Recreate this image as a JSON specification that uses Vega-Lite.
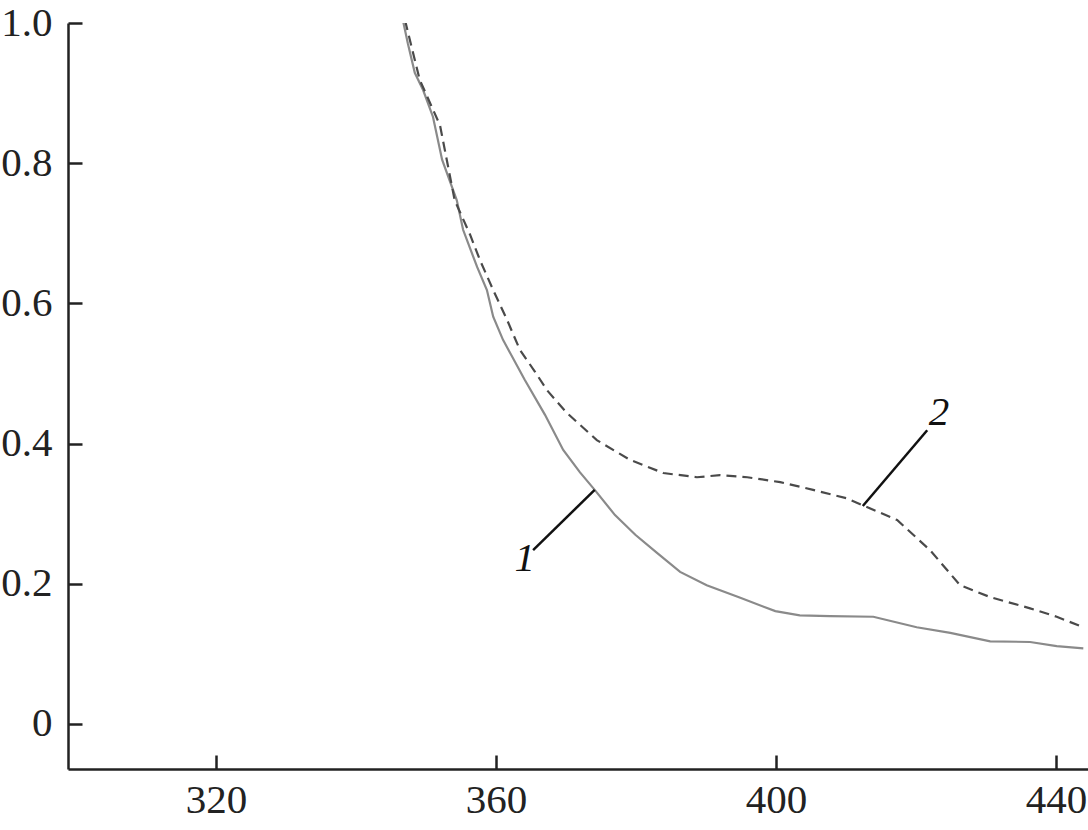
{
  "$schema": "https://vega.github.io/schema/vega-lite/v6.json",
  "width": 1020,
  "height": 746,
  "autosize": {"type": "none"},
  "padding": {"left": 68, "top": 23, "right": 0, "bottom": 61},
  "background": "white",
  "config": {
    "view": {"stroke": null},
    "axis": {
      "labelFont": "Liberation Serif",
      "labelFontSize": 41,
      "labelColor": "#222222",
      "domainColor": "#222222",
      "domainWidth": 2.5,
      "tickColor": "#222222",
      "tickWidth": 2.5,
      "tickSize": -14,
      "grid": false,
      "title": null
    }
  },
  "datasets": {
    "curves": [
      {"wl": 346.7, "a": 1.004, "curve": "1"},
      {"wl": 347.4, "a": 0.971, "curve": "1"},
      {"wl": 348.4, "a": 0.929, "curve": "1"},
      {"wl": 349.6, "a": 0.904, "curve": "1"},
      {"wl": 351.0, "a": 0.866, "curve": "1"},
      {"wl": 352.3, "a": 0.805, "curve": "1"},
      {"wl": 354.4, "a": 0.747, "curve": "1"},
      {"wl": 355.3, "a": 0.705, "curve": "1"},
      {"wl": 357.3, "a": 0.652, "curve": "1"},
      {"wl": 358.7, "a": 0.619, "curve": "1"},
      {"wl": 359.6, "a": 0.581, "curve": "1"},
      {"wl": 361.0, "a": 0.548, "curve": "1"},
      {"wl": 364.1, "a": 0.491, "curve": "1"},
      {"wl": 367.0, "a": 0.441, "curve": "1"},
      {"wl": 369.6, "a": 0.391, "curve": "1"},
      {"wl": 372.0, "a": 0.359, "curve": "1"},
      {"wl": 374.1, "a": 0.334, "curve": "1"},
      {"wl": 377.0, "a": 0.298, "curve": "1"},
      {"wl": 379.9, "a": 0.270, "curve": "1"},
      {"wl": 383.0, "a": 0.244, "curve": "1"},
      {"wl": 386.3, "a": 0.217, "curve": "1"},
      {"wl": 390.1, "a": 0.198, "curve": "1"},
      {"wl": 394.9, "a": 0.180, "curve": "1"},
      {"wl": 399.9, "a": 0.161, "curve": "1"},
      {"wl": 403.4, "a": 0.155, "curve": "1"},
      {"wl": 407.7, "a": 0.154, "curve": "1"},
      {"wl": 413.9, "a": 0.153, "curve": "1"},
      {"wl": 420.1, "a": 0.138, "curve": "1"},
      {"wl": 424.9, "a": 0.130, "curve": "1"},
      {"wl": 430.6, "a": 0.118, "curve": "1"},
      {"wl": 436.3, "a": 0.117, "curve": "1"},
      {"wl": 440.1, "a": 0.111, "curve": "1"},
      {"wl": 443.9, "a": 0.108, "curve": "1"},
      {"wl": 347.0, "a": 1.004, "curve": "2"},
      {"wl": 349.1, "a": 0.919, "curve": "2"},
      {"wl": 352.0, "a": 0.854, "curve": "2"},
      {"wl": 354.1, "a": 0.747, "curve": "2"},
      {"wl": 356.3, "a": 0.698, "curve": "2"},
      {"wl": 357.7, "a": 0.662, "curve": "2"},
      {"wl": 359.6, "a": 0.619, "curve": "2"},
      {"wl": 361.6, "a": 0.576, "curve": "2"},
      {"wl": 363.4, "a": 0.534, "curve": "2"},
      {"wl": 365.6, "a": 0.502, "curve": "2"},
      {"wl": 367.3, "a": 0.476, "curve": "2"},
      {"wl": 370.1, "a": 0.444, "curve": "2"},
      {"wl": 374.4, "a": 0.405, "curve": "2"},
      {"wl": 379.1, "a": 0.377, "curve": "2"},
      {"wl": 383.9, "a": 0.358, "curve": "2"},
      {"wl": 388.7, "a": 0.352, "curve": "2"},
      {"wl": 392.0, "a": 0.355, "curve": "2"},
      {"wl": 395.9, "a": 0.352, "curve": "2"},
      {"wl": 400.6, "a": 0.345, "curve": "2"},
      {"wl": 405.3, "a": 0.334, "curve": "2"},
      {"wl": 410.1, "a": 0.322, "curve": "2"},
      {"wl": 412.4, "a": 0.312, "curve": "2"},
      {"wl": 417.3, "a": 0.291, "curve": "2"},
      {"wl": 422.0, "a": 0.248, "curve": "2"},
      {"wl": 426.3, "a": 0.198, "curve": "2"},
      {"wl": 430.6, "a": 0.181, "curve": "2"},
      {"wl": 436.3, "a": 0.165, "curve": "2"},
      {"wl": 440.1, "a": 0.153, "curve": "2"},
      {"wl": 443.9, "a": 0.138, "curve": "2"}
    ],
    "leaders": [
      {"x1": 365.3, "y1": 0.248, "x2": 374.1, "y2": 0.334, "label": "1", "lx": 364.1, "ly": 0.235},
      {"x1": 421.6, "y1": 0.419, "x2": 412.4, "y2": 0.311, "label": "2", "lx": 423.3, "ly": 0.444}
    ]
  },
  "layer": [
    {
      "data": {"name": "curves"},
      "transform": [{"filter": "datum.curve == '1'"}],
      "mark": {"type": "line", "color": "#8a8a8a", "strokeWidth": 2.2, "clip": true},
      "encoding": {
        "x": {
          "field": "wl", "type": "quantitative",
          "scale": {"domain": [298.857, 444.57], "nice": false, "zero": false},
          "axis": {"values": [320, 360, 400, 440], "format": "d", "labelPadding": 25, "orient": "bottom"}
        },
        "y": {
          "field": "a", "type": "quantitative",
          "scale": {"domain": [-0.0642, 1.0], "nice": false, "zero": false},
          "axis": {"values": [0, 0.2, 0.4, 0.6, 0.8, 1.0], "labelExpr": "datum.value == 0 ? '0' : format(datum.value, '.1f')", "labelPadding": 30}
        }
      }
    },
    {
      "data": {"name": "curves"},
      "transform": [{"filter": "datum.curve == '2'"}],
      "mark": {"type": "line", "color": "#4a4a4a", "strokeWidth": 2.2, "strokeDash": [10, 6], "clip": true},
      "encoding": {
        "x": {"field": "wl", "type": "quantitative"},
        "y": {"field": "a", "type": "quantitative"}
      }
    },
    {
      "data": {"name": "leaders"},
      "mark": {"type": "rule", "color": "#111111", "strokeWidth": 2.5},
      "encoding": {
        "x": {"field": "x1", "type": "quantitative"},
        "y": {"field": "y1", "type": "quantitative"},
        "x2": {"field": "x2"},
        "y2": {"field": "y2"}
      }
    },
    {
      "data": {"name": "leaders"},
      "mark": {"type": "text", "font": "Liberation Serif", "fontStyle": "italic", "fontSize": 41, "color": "#111111", "align": "center", "baseline": "middle"},
      "encoding": {
        "x": {"field": "lx", "type": "quantitative"},
        "y": {"field": "ly", "type": "quantitative"},
        "text": {"field": "label"}
      }
    }
  ]
}
